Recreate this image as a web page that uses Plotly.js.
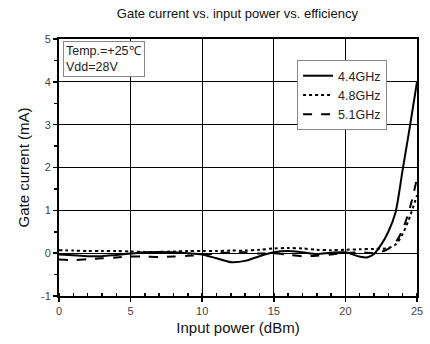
<!DOCTYPE html>
<html>
<head>
<meta charset="utf-8">
<script src="https://cdn.plot.ly/plotly-3.0.1.min.js"></script>
<style>html,body{margin:0;padding:0;background:#fff;}#chart{width:430px;height:344px;}</style>
</head>
<body>
<div id="chart"></div>
<script>
// Data
const seriesNames = ["4.4GHz", "4.8GHz", "5.1GHz"];

const x44 = [0,1,2,3,4,5,6,7,8,9,10,11,12,13,14,15,16,17,18,19,20,21,21.5,22,22.5,23,23.5,24,24.5,25];
const y44 = [-0.03,-0.05,-0.07,-0.07,-0.04,-0.01,0.02,0.03,0.02,0.0,-0.03,-0.12,-0.21,-0.18,-0.07,0.02,0.05,0.02,-0.02,0.01,0.02,-0.08,-0.1,-0.02,0.2,0.5,0.95,1.95,2.95,4.0];

const x48 = [0,1,2,3,4,5,6,7,8,9,10,11,12,13,14,15,16,17,18,19,20,21,22,23,23.5,24,24.5,25];
const y48 = [0.07,0.06,0.05,0.05,0.05,0.04,0.03,0.03,0.04,0.05,0.05,0.05,0.06,0.06,0.08,0.11,0.12,0.11,0.08,0.07,0.08,0.09,0.1,0.12,0.2,0.45,0.85,1.35];

const x51 = [0,1,2,3,4,5,6,7,8,9,10,11,12,13,14,15,16,17,18,19,20,21,22,22.5,23,23.5,24,24.5,25];
const y51 = [-0.15,-0.16,-0.14,-0.12,-0.1,-0.08,-0.08,-0.09,-0.08,-0.06,-0.04,0.0,0.01,0.02,-0.01,0.0,-0.04,-0.07,-0.06,-0.03,0.0,0.02,0.0,0.03,0.1,0.25,0.55,1.05,1.75];

const xTickVals = [0,5,10,15,20,25];
const xTickText = ["0","5","10","15","20","25"];
const yTickVals = [-1,0,1,2,3,4,5];
const yTickText = ["-1","0","1","2","3","4","5"];

const FONT = "Liberation Sans, Arial, sans-serif";

const traces = [
  {x: x44, y: y44, name: seriesNames[0], mode: "lines", line: {color: "#000", width: 2, dash: "solid", shape: "spline", smoothing: 0.8}},
  {x: x48, y: y48, name: seriesNames[1], mode: "lines", line: {color: "#000", width: 2, dash: "dot", shape: "spline", smoothing: 0.8}},
  {x: x51, y: y51, name: seriesNames[2], mode: "lines", line: {color: "#000", width: 2, dash: "dash", shape: "spline", smoothing: 0.8}}
];

const layout = {
  width: 430, height: 344,
  margin: {l: 59, r: 13, t: 39, b: 48},
  paper_bgcolor: "#fff", plot_bgcolor: "#fff",
  font: {family: FONT, color: "#222"},
  title: {text: "Gate current vs. input power vs. efficiency", font: {size: 13, color: "#111", family: FONT}, x: 0.552, xanchor: "center", y: 0.975, yanchor: "top"},
  showlegend: true,
  legend: {x: 0.665, y: 0.918, xanchor: "left", yanchor: "top", bgcolor: "#fff", bordercolor: "#888", borderwidth: 1,
           font: {size: 12.5, color: "#222", family: FONT}, itemwidth: 30, tracegroupgap: 0},
  xaxis: {
    range: [0, 25], tickvals: xTickVals, ticktext: xTickText, ticks: "outside", ticklen: 4, tickwidth: 1.5, tickcolor: "#000",
    showgrid: true, gridcolor: "#000", gridwidth: 1.2, zeroline: false,
    showline: true, linecolor: "#000", linewidth: 2, mirror: true,
    tickfont: {size: 11, color: "#444", family: FONT},
    minor: {dtick: 1, ticks: "inside", ticklen: 3, tickcolor: "#000", showgrid: false},
    title: {text: "Input power (dBm)", font: {size: 15, color: "#111", family: FONT}, standoff: 6}
  },
  yaxis: {
    range: [-1, 5], tickvals: yTickVals, ticktext: yTickText, ticks: "outside", ticklen: 4, tickwidth: 1.5, tickcolor: "#000",
    showgrid: true, gridcolor: "#000", gridwidth: 1.2, zeroline: false,
    showline: true, linecolor: "#000", linewidth: 2, mirror: true,
    tickfont: {size: 11, color: "#444", family: FONT},
    minor: {dtick: 0.5, ticks: "outside", ticklen: 3, tickcolor: "#000", showgrid: false},
    title: {text: "Gate current (mA)", font: {size: 15, color: "#111", family: FONT}, standoff: 8}
  },
  annotations: [{
    xref: "paper", yref: "paper", x: 0.012, y: 0.994, xanchor: "left", yanchor: "top",
    text: "Temp.=+25℃<br>Vdd=28V", align: "left", showarrow: false,
    font: {size: 12.5, color: "#222", family: FONT},
    bgcolor: "#fff", bordercolor: "#888", borderwidth: 1, borderpad: 2
  }]
};

Plotly.newPlot("chart", traces, layout, {displayModeBar: false, staticPlot: true});
</script>
</body>
</html>
